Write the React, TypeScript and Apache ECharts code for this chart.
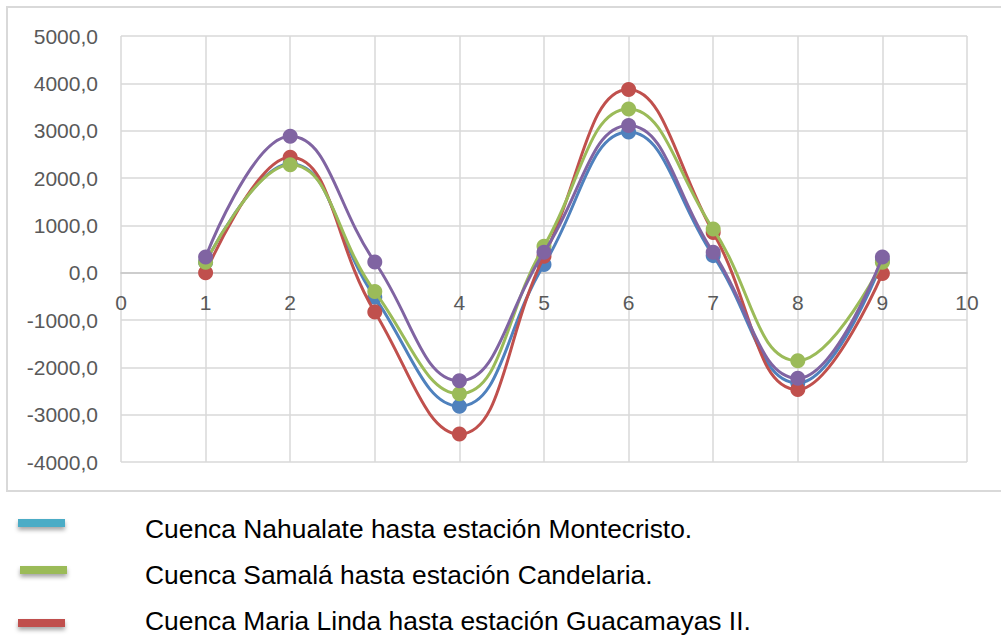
import React, { useEffect, useRef } from "react";
import * as echarts from "echarts";

const xValues = [1, 2, 3, 4, 5, 6, 7, 8, 9];
const nahualate = [220, 2300, -520, -2820, 170, 2970, 360, -2330, 250];
const mariaLinda = [0, 2440, -830, -3410, 345, 3870, 850, -2470, -20];
const samala = [220, 2280, -400, -2560, 560, 3460, 920, -1860, 220];
const serie4 = [330, 2880, 225, -2285, 430, 3110, 430, -2230, 330];

const seriesNames = [
  "Cuenca Nahualate hasta estación Montecristo.",
  "Cuenca Maria Linda hasta estación Guacamayas II.",
  "Cuenca Samalá hasta estación Candelaria.",
  "Serie 4",
];
const seriesColors = ["#4f81bd", "#c0504d", "#9bbb59", "#8064a2"];

const legendLabels = [
  "Cuenca Nahualate hasta estación Montecristo.",
  "Cuenca Samalá hasta estación Candelaria.",
  "Cuenca Maria Linda hasta estación Guacamayas II.",
];
const legendColors = ["#4bacc6", "#9bbb59", "#c0504d"];

export default function App() {
  const ref = useRef<HTMLDivElement>(null);
  useEffect(() => {
    if (!ref.current) return;
    const chart = echarts.init(ref.current, null, { renderer: "svg" });
    const datasets = [nahualate, mariaLinda, samala, serie4];
    const legendY = [523, 570, 623];
    const textY = [529, 575, 621];
    const graphics: any[] = [
      {
        type: "rect",
        shape: { x: 7, y: 7, width: 1100, height: 484 },
        style: { fill: "none", stroke: "#d9d9d9", lineWidth: 2 },
        silent: true,
      },
    ];
    legendLabels.forEach((lab, i) => {
      graphics.push({
        type: "rect",
        shape: { x: i === 1 ? 20 : 18, y: legendY[i] - 4, width: 47, height: 8 },
        style: {
          fill: legendColors[i],
          shadowBlur: 4,
          shadowOffsetY: 3,
          shadowColor: "rgba(0,0,0,0.35)",
        },
      });
      graphics.push({
        type: "text",
        x: 145,
        y: textY[i],
        style: {
          text: lab,
          fill: "#000000",
          fontSize: 26.4,
          fontFamily: "Liberation Sans, Arial, sans-serif",
          verticalAlign: "middle",
          align: "left",
        },
      });
    });
    chart.setOption({
      animation: false,
      grid: { left: 121, right: 34, top: 36, bottom: 635 - 462, containLabel: false },
      xAxis: {
        type: "value",
        min: 0,
        max: 10,
        interval: 1,
        offset: -189,
        axisLine: { show: true, onZero: false, lineStyle: { color: "#c6c6c6", width: 1.5 } },
        axisTick: { show: false },
        splitLine: { show: true, lineStyle: { color: "#d9d9d9", width: 1.5 } },
        axisLabel: {
          fontSize: 21,
          color: "#595959",
          margin: 19,
          fontFamily: "Liberation Sans, Arial, sans-serif",
        },
      },
      yAxis: {
        type: "value",
        min: -4000,
        max: 5000,
        interval: 1000,
        axisLine: { show: false },
        axisTick: { show: false },
        splitLine: { show: true, lineStyle: { color: "#d9d9d9", width: 1.5 } },
        axisLabel: {
          fontSize: 21,
          color: "#595959",
          margin: 23,
          fontFamily: "Liberation Sans, Arial, sans-serif",
          formatter: (v: number) => v.toFixed(1).replace(".", ","),
        },
      },
      series: datasets.map((d, i) => ({
        type: "line",
        name: seriesNames[i],
        data: d.map((v, j) => [xValues[j], v]),
        smooth: 0.45,
        symbol: "circle",
        symbolSize: 15,
        lineStyle: { color: seriesColors[i], width: 3 },
        itemStyle: { color: seriesColors[i] },
        z: 2 + i,
      })),
      graphic: graphics,
    });
    return () => chart.dispose();
  }, []);
  return (
    <div
      ref={ref}
      style={{ position: "fixed", left: 0, top: 0, width: 1001, height: 635, background: "#fff" }}
    />
  );
}
